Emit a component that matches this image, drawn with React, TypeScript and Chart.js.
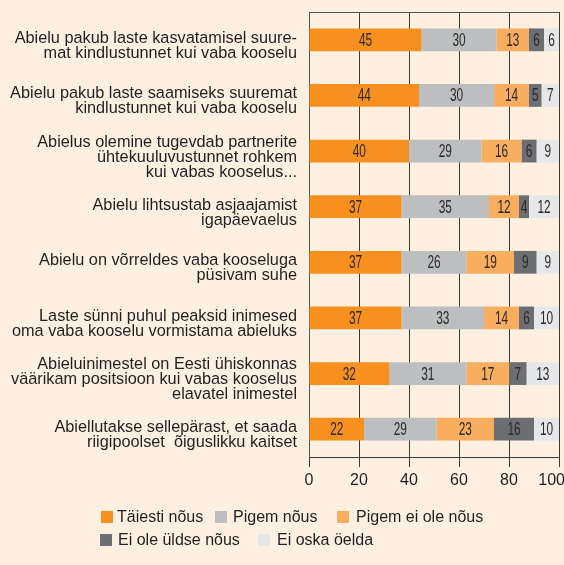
import { useEffect, useRef } from "react";
import { Chart, registerables } from "chart.js";

Chart.register(...registerables);

const categories: string[][] = [
  ["Abielu pakub laste kasvatamisel suure-", "mat kindlustunnet kui vaba kooselu"],
  ["Abielu pakub laste saamiseks suuremat", "kindlustunnet kui vaba kooselu"],
  ["Abielus olemine tugevdab partnerite", "ühtekuuluvustunnet rohkem", "kui vabas kooselus..."],
  ["Abielu lihtsustab asjaajamist", "igapäevaelus"],
  ["Abielu on võrreldes vaba kooseluga", "püsivam suhe"],
  ["Laste sünni puhul peaksid inimesed", "oma vaba kooselu vormistama abieluks"],
  ["Abieluinimestel on Eesti ühiskonnas", "väärikam positsioon kui vabas kooselus", "elavatel inimestel"],
  ["Abiellutakse sellepärast, et saada", "riigipoolset  õiguslikku kaitset"],
];

const seriesLabels = ["Täiesti nõus", "Pigem nõus", "Pigem ei ole nõus", "Ei ole üldse nõus", "Ei oska öelda"];
const taiestiNous = [45, 44, 40, 37, 37, 37, 32, 22];
const pigemNous = [30, 30, 29, 35, 26, 33, 31, 29];
const pigemEiOleNous = [13, 14, 16, 12, 19, 14, 17, 23];
const eiOleUldseNous = [6, 5, 6, 4, 9, 6, 7, 16];
const eiOskaOelda = [6, 7, 9, 12, 9, 10, 13, 10];
const xTickValues = [0, 20, 40, 60, 80, 100];

const seriesColors = ["#F7901E", "#BCBEC0", "#F9AD5E", "#6D6E71", "#E6E7E8"];
const BG = "#FDF0E1";
const TEXT = "#231F20";
const FONT = '"Liberation Sans", Arial, Helvetica, sans-serif';

// legend layout (box x, text x, row)
const legendLayout = [
  { bx: 101, tx: 117, row: 0 },
  { bx: 215, tx: 233, row: 0 },
  { bx: 337, tx: 356, row: 0 },
  { bx: 100, tx: 118, row: 1 },
  { bx: 258, tx: 277, row: 1 },
];
const legendRowY = [517, 540];

const backgroundPlugin = {
  id: "bgFill",
  beforeDraw(chart: any) {
    const ctx = chart.ctx;
    ctx.save();
    ctx.fillStyle = BG;
    ctx.fillRect(0, 0, chart.width, chart.height);
    ctx.restore();
  },
};

const valueLabelsPlugin = {
  id: "valueLabels",
  afterDatasetsDraw(chart: any) {
    const ctx = chart.ctx;
    ctx.save();
    ctx.font = `18px ${FONT}`;
    ctx.fillStyle = "#2B2B2B";
    ctx.textAlign = "center";
    ctx.textBaseline = "middle";
    chart.data.datasets.forEach((ds: any, di: number) => {
      const meta = chart.getDatasetMeta(di);
      meta.data.forEach((el: any, i: number) => {
        const v = ds.data[i];
        const cx = (el.x + el.base) / 2;
        ctx.save();
        ctx.translate(cx, el.y + 1);
        ctx.scale(0.66, 1);
        ctx.fillText(String(v), 0, 0);
        ctx.restore();
      });
    });
    ctx.restore();
  },
};

const framePlugin = {
  id: "frameAndLabels",
  afterDraw(chart: any) {
    const ctx = chart.ctx;
    const area = chart.chartArea;
    const xScale = chart.scales.x;
    ctx.save();
    // top border
    ctx.strokeStyle = "#555555";
    ctx.lineWidth = 1;
    ctx.beginPath();
    ctx.moveTo(area.left, Math.round(area.top) + 0.5);
    ctx.lineTo(area.right, Math.round(area.top) + 0.5);
    ctx.stroke();
    // x tick labels
    ctx.font = `16px ${FONT}`;
    ctx.fillStyle = TEXT;
    ctx.textAlign = "center";
    ctx.textBaseline = "middle";
    xTickValues.forEach((v) => {
      let px = xScale.getPixelForValue(v);
      const w = ctx.measureText(String(v)).width;
      px = Math.min(px, chart.width - w / 2 + 1);
      ctx.fillText(String(v), px, area.bottom + 24);
    });
    // legend
    ctx.textAlign = "left";
    chart.data.datasets.forEach((ds: any, i: number) => {
      const l = legendLayout[i];
      const y = legendRowY[l.row];
      ctx.fillStyle = ds.backgroundColor;
      ctx.fillRect(l.bx, y - 6, 12, 12);
      ctx.fillStyle = TEXT;
      ctx.fillText(ds.label, l.tx, y + 1);
    });
    ctx.restore();
  },
};

export default function App() {
  const canvasRef = useRef<HTMLCanvasElement | null>(null);

  useEffect(() => {
    if (!canvasRef.current) return;
    const series = [taiestiNous, pigemNous, pigemEiOleNous, eiOleUldseNous, eiOskaOelda];
    const chart = new Chart(canvasRef.current, {
      type: "bar",
      data: {
        labels: categories,
        datasets: series.map((d, i) => ({
          label: seriesLabels[i],
          data: d,
          backgroundColor: seriesColors[i],
          borderWidth: 0,
          barPercentage: 0.41,
          categoryPercentage: 1,
        })),
      },
      options: {
        indexAxis: "y",
        animation: false,
        responsive: true,
        maintainAspectRatio: false,
        layout: { padding: { top: 12, right: 5, bottom: 98, left: 0 } },
        plugins: {
          legend: { display: false },
          tooltip: { enabled: false },
        },
        scales: {
          x: {
            stacked: true,
            min: 0,
            max: 100,
            ticks: { display: false, stepSize: 20 },
            grid: { color: "#3A3A3A", lineWidth: 1, drawTicks: true, tickLength: 10 },
            border: { display: true, color: "#3A3A3A", width: 1 },
            afterFit(scale: any) {
              scale.paddingLeft = 0;
              scale.paddingRight = 0;
            },
          },
          y: {
            stacked: true,
            grid: { display: false, drawTicks: false },
            border: { display: true, color: "#555555", width: 1 },
            ticks: {
              color: TEXT,
              padding: 12,
              labelOffset: 6,
              font: { family: FONT, size: 16.3, lineHeight: "15px" },
            },
            afterFit(scale: any) {
              scale.width = 309;
              scale.paddingTop = 0;
              scale.paddingBottom = 0;
            },
          },
        },
      },
      plugins: [backgroundPlugin, valueLabelsPlugin, framePlugin],
    });
    return () => chart.destroy();
  }, []);

  return (
    <div style={{ position: "fixed", left: 0, top: 0, width: 564, height: 565, background: BG }}>
      <canvas ref={canvasRef} />
    </div>
  );
}
